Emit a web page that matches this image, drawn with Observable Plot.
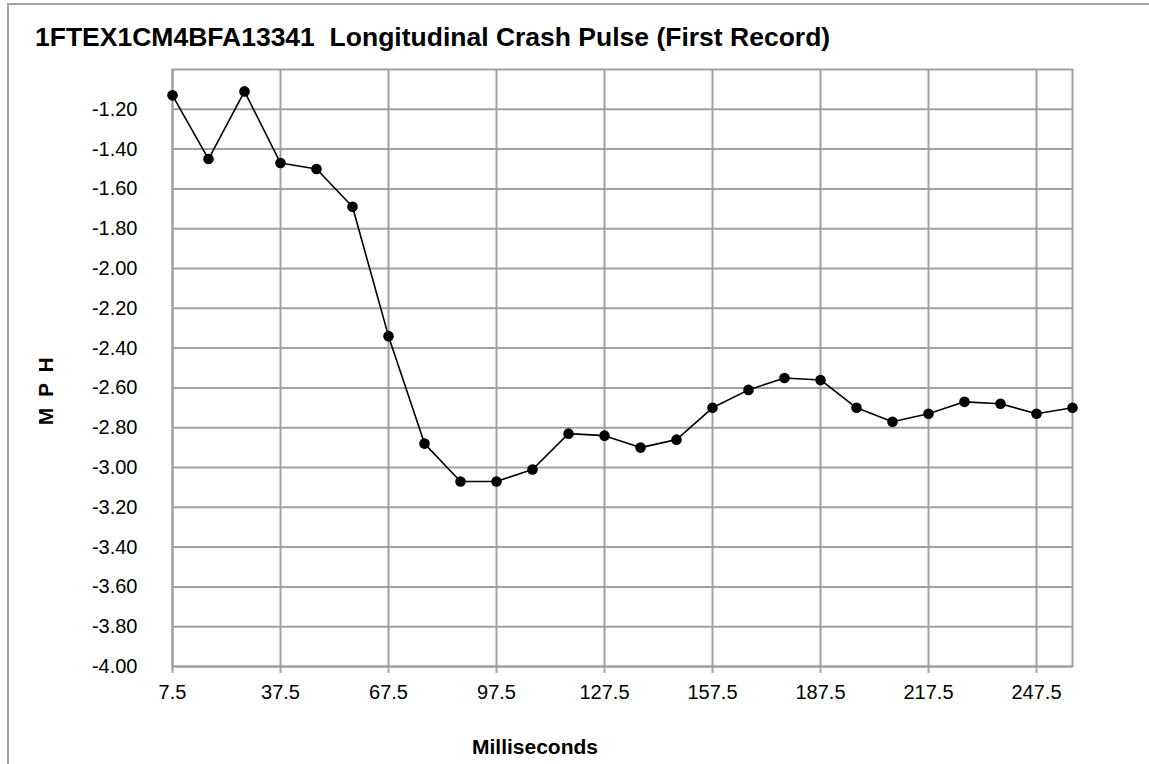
<!DOCTYPE html>
<html>
<head>
<meta charset="utf-8">
<script src="https://cdn.jsdelivr.net/npm/d3@7"></script>
<script src="https://cdn.jsdelivr.net/npm/@observablehq/plot@0.6"></script>
<style>
  html, body { margin: 0; padding: 0; background: #fff; }
  #wrap { position: relative; width: 1149px; height: 764px; overflow: hidden; background: #fff; font-family: "Liberation Sans", Arial, sans-serif; }
  #outer { position: absolute; left: 7px; top: 3px; width: 2000px; height: 2000px; border-top: 2px solid #a0a0a0; border-left: 2px solid #a0a0a0; }
  #title { position: absolute; left: 35px; top: 24px; font-size: 26.5px; font-weight: bold; white-space: pre; color: #000; line-height: 1; }
  #xlabel { position: absolute; left: 472px; top: 736px; font-size: 21px; font-weight: bold; color: #000; line-height: 1; white-space: pre; }
  #ylabel { position: absolute; left: 45px; top: 390px; font-size: 21px; font-weight: bold; letter-spacing: 2.5px; color: #000; line-height: 1; white-space: pre; transform: translate(-50%, -50%) rotate(-90deg); }
  #chart { position: absolute; left: 0; top: 0; }
</style>
</head>
<body>
<div id="wrap">
  <div id="outer"></div>
  <div id="chart"></div>
  <div id="title">1FTEX1CM4BFA13341  Longitudinal Crash Pulse (First Record)</div>
  <div id="xlabel">Milliseconds</div>
  <div id="ylabel">M P H</div>
</div>
<script>
const milliseconds = [7.5, 17.5, 27.5, 37.5, 47.5, 57.5, 67.5, 77.5, 87.5, 97.5, 107.5, 117.5, 127.5,
  137.5, 147.5, 157.5, 167.5, 177.5, 187.5, 197.5, 207.5, 217.5, 227.5, 237.5, 247.5, 257.5];
const mphValues = [-1.13, -1.45, -1.11, -1.47, -1.50, -1.69, -2.34, -2.88, -3.07, -3.07, -3.01, -2.83, -2.84,
  -2.90, -2.86, -2.70, -2.61, -2.55, -2.56, -2.70, -2.77, -2.73, -2.67, -2.68, -2.73, -2.70];
const xTicks = [7.5, 37.5, 67.5, 97.5, 127.5, 157.5, 187.5, 217.5, 247.5];
const yTicks = [-4.0, -3.8, -3.6, -3.4, -3.2, -3.0, -2.8, -2.6, -2.4, -2.2, -2.0, -1.8, -1.6, -1.4, -1.2];

const data = milliseconds.map((ms, i) => ({ms, mph: mphValues[i]}));
const grid = "#a0a0a0";

const chart = Plot.plot({
  width: 1149,
  height: 764,
  marginTop: 69,
  marginLeft: 172,
  marginRight: 77,
  marginBottom: 98,
  x: {domain: [7.5, 257.5]},
  y: {domain: [-4, -1]},
  style: {fontFamily: "'Liberation Sans', Arial, sans-serif", fontSize: "20px", color: "#000", background: "transparent", overflow: "visible"},
  marks: [
    Plot.ruleY(yTicks, {stroke: grid, strokeWidth: 2}),
    Plot.ruleX(xTicks, {stroke: grid, strokeWidth: 2}),
    Plot.frame({stroke: grid, strokeWidth: 2}),
    Plot.axisX({ticks: xTicks, tickSize: 7, tickPadding: 11, stroke: grid, strokeWidth: 2, tickFormat: d => d.toFixed(1), label: null, fontSize: 20}),
    Plot.axisY({ticks: yTicks, tickSize: 0, tickPadding: 35, tickFormat: d => d.toFixed(2), label: null, fontSize: 20}),
    Plot.line(data, {x: "ms", y: "mph", stroke: "#000", strokeWidth: 1.6}),
    Plot.dot(data, {x: "ms", y: "mph", fill: "#000", stroke: "none", r: 5.3})
  ]
});
document.getElementById("chart").appendChild(chart);
</script>
</body>
</html>
